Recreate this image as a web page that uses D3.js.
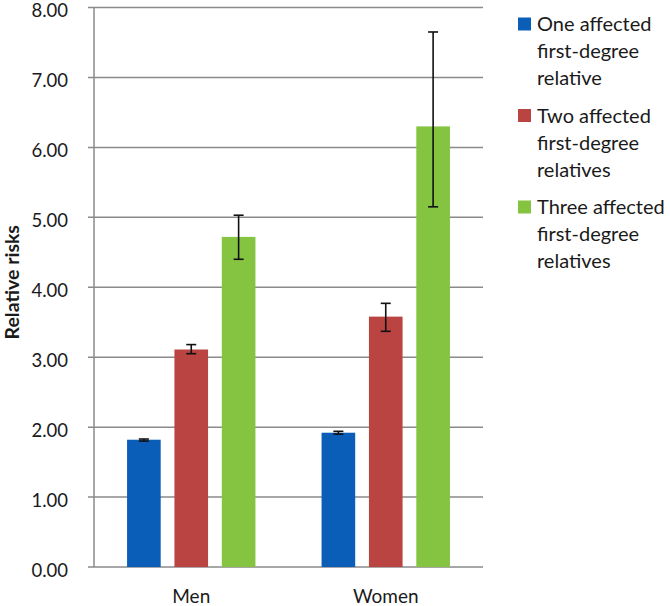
<!DOCTYPE html>
<html>
<head>
<meta charset="utf-8">
<script src="https://cdn.jsdelivr.net/npm/d3@7"></script>
<style>
  body { margin: 0; background: #fff; }
  text { font-family: Lato, "Open Sans", sans-serif; fill: #1a1a1a; }
</style>
</head>
<body>
<div id="chart"></div>
<script>
// categories and series
const groups = ['Men', 'Women'];
const seriesNames = [
    ['One affected', 'first-degree', 'relative'],
    ['Two affected', 'first-degree', 'relatives'],
    ['Three affected', 'first-degree', 'relatives']
];
const seriesColors = ['#0b5eb8', '#b94442', '#84c441'];

// relative risk per series, [Men, Women]
const riskOne = [1.82, 1.92];
const riskTwo = [3.11, 3.58];
const riskThree = [4.72, 6.30];

// confidence interval bounds, [Men, Women]
const lowOne = [1.80, 1.90];
const highOne = [1.83, 1.94];
const lowTwo = [3.05, 3.37];
const highTwo = [3.18, 3.77];
const lowThree = [4.40, 5.15];
const highThree = [5.03, 7.65];

const yTicks = [0, 1, 2, 3, 4, 5, 6, 7, 8];

const values = [riskOne, riskTwo, riskThree];
const lows = [lowOne, lowTwo, lowThree];
const highs = [highOne, highTwo, highThree];

const data = [];
groups.forEach((g, gi) => {
    values.forEach((s, si) => {
        data.push({ group: g, series: si, value: s[gi], low: lows[si][gi], high: highs[si][gi] });
    });
});

const width = 670, height = 606;
const margin = { left: 94, right: 187, top: 7.5, bottom: 39 };

const svg = d3.select('#chart').append('svg')
    .attr('width', width)
    .attr('height', height);

const x0 = d3.scaleBand()
    .domain(groups)
    .range([margin.left, width - margin.right])
    .paddingInner(0.34)
    .paddingOuter(0.17);

const x1 = d3.scaleBand()
    .domain(d3.range(3))
    .range([0, x0.bandwidth()])
    .paddingInner(0.29);

const y = d3.scaleLinear()
    .domain([0, 8])
    .range([height - margin.bottom, margin.top]);

// gridlines
svg.append('g')
    .selectAll('line')
    .data(yTicks)
    .join('line')
    .attr('x1', margin.left - 6)
    .attr('x2', width - margin.right)
    .attr('y1', d => y(d))
    .attr('y2', d => y(d))
    .attr('stroke', '#8a8a8a')
    .attr('stroke-width', 1.5);

// y axis line
svg.append('line')
    .attr('x1', margin.left).attr('x2', margin.left)
    .attr('y1', y(8)).attr('y2', y(0))
    .attr('stroke', '#8a8a8a')
    .attr('stroke-width', 1.5);

// y tick labels
svg.append('g')
    .selectAll('text')
    .data(yTicks)
    .join('text')
    .attr('x', margin.left - 26)
    .attr('y', d => y(d) + 9.5)
    .attr('text-anchor', 'end')
    .style('font-size', '18.5px')
    .text(d => d3.format('.2f')(d));

// y title
svg.append('text')
    .attr('transform', `translate(19, ${(y(0) + y(8)) / 2 - 5}) rotate(-90)`)
    .attr('text-anchor', 'middle')
    .style('font-size', '19.5px')
    .style('font-weight', 'bold')
    .text('Relative risks');

// bars
svg.append('g')
    .selectAll('rect')
    .data(data)
    .join('rect')
    .attr('x', d => x0(d.group) + x1(d.series))
    .attr('width', x1.bandwidth())
    .attr('y', d => y(d.value))
    .attr('height', d => y(0) - y(d.value))
    .attr('fill', d => seriesColors[d.series]);

// error bars
const err = svg.append('g')
    .attr('stroke', '#111')
    .attr('stroke-width', 1.6);

data.forEach(d => {
    const cx = x0(d.group) + x1(d.series) + x1.bandwidth() / 2;
    err.append('line')
        .attr('x1', cx).attr('x2', cx)
        .attr('y1', y(d.low)).attr('y2', y(d.high));
    [d.low, d.high].forEach(v => {
        err.append('line')
            .attr('x1', cx - 5).attr('x2', cx + 5)
            .attr('y1', y(v)).attr('y2', y(v));
    });
});

// x labels
svg.append('g')
    .selectAll('text')
    .data(groups)
    .join('text')
    .attr('x', d => x0(d) + x0.bandwidth() / 2)
    .attr('y', height - 3)
    .attr('text-anchor', 'middle')
    .style('font-size', '19px')
    .text(d => d);

// legend
const legend = svg.append('g');
seriesNames.forEach((lines, i) => {
    const top = 24 + i * 91.5;
    legend.append('rect')
        .attr('x', 518)
        .attr('y', top - 6.5)
        .attr('width', 13)
        .attr('height', 13)
        .attr('fill', seriesColors[i]);
    legend.append('text')
        .attr('x', 537)
        .attr('y', top)
        .style('font-size', '20px')
        .selectAll('tspan')
        .data(lines)
        .join('tspan')
        .attr('x', 537)
        .attr('dy', (d, j) => j === 0 ? '0.36em' : '27px')
        .text(d => d);
});
</script>
</body>
</html>
